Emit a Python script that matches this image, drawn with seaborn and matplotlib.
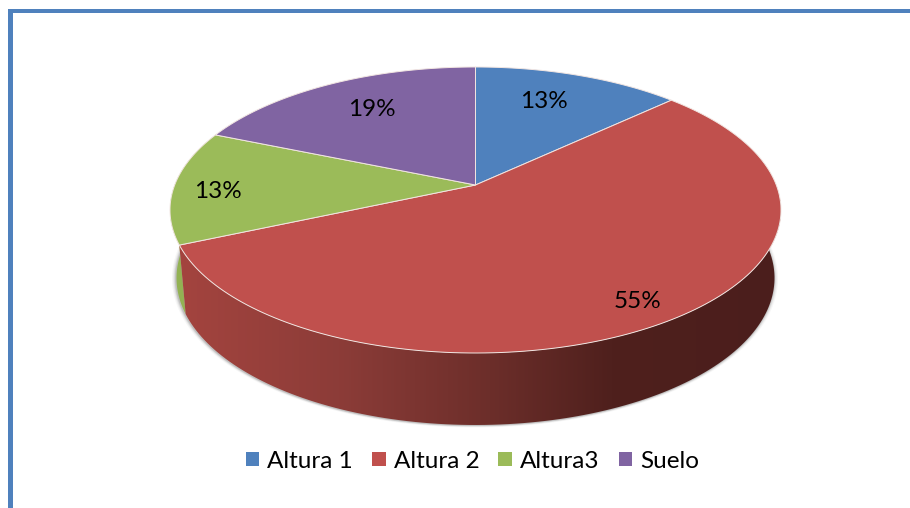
import numpy as np
import matplotlib
matplotlib.use("Agg")
import matplotlib.pyplot as plt
from matplotlib.patches import Patch, Polygon, Rectangle
from matplotlib.colors import LinearSegmentedColormap
import seaborn as sns

categories = ["Altura 1", "Altura 2", "Altura3", "Suelo"]
values = [13.0, 55.4, 12.9, 18.7]
colors = ["#4F81BD", "#C0504D", "#9BBB59", "#8064A2"]
side_colors = ["#4F81BD", "#C0504D", "#93B253", "#8064A2"]
frame_color = "#4F81BD"
text_color = "#000000"

sns.set_theme(style="white")
plt.rcParams["font.family"] = ["Lato", "DejaVu Sans"]

W, H = 910, 508
fig = plt.figure(figsize=(W / 100, H / 100), dpi=100, facecolor="white")
ax = fig.add_axes([0, 0, 1, 1])
ax.set_xlim(0, W)
ax.set_ylim(H, 0)
ax.axis("off")

# Perspective mapping of a unit disc on to the screen
CX, PERSP = 475.5, 0.1748
def top_face(x, y):
    d = 1 + PERSP * y
    return CX + 300.8 * x / d, (185 - 106.3 * y) / d
def bottom_face(x, y):
    d = 1 + PERSP * y
    return CX + 294.4 * x / d, (252.3 - 98.4 * y) / d
def arc(face, a0, a1, n=160):
    t = np.radians(np.linspace(a0, a1, n))
    return np.column_stack(face(np.sin(t), np.cos(t)))

edges = np.concatenate([[0], np.cumsum(values)]) / sum(values) * 360

# Soft shadow below the body
full = arc(bottom_face, 0, 360, 360)
for grow, alpha in zip([4.0, 2.8, 1.8, 0.9], [0.05, 0.08, 0.12, 0.18]):
    c = np.array([CX, 278.0])
    ax.add_patch(Polygon(c + (full - c) * (1 + grow / 299) + [-0.5, 0.5],
                         closed=True, fc="#555555", ec="none", alpha=alpha, zorder=1))

# Side walls
ramp = LinearSegmentedColormap.from_list(
    "wall", [(0.0, "#A4443F"), (0.27, "#8C3C38"), (0.52, "#6C2E2A"),
             (0.72, "#4F201D"), (1.0, "#4B1E1C")])
for i in range(len(values)):
    a0, a1 = edges[i], edges[i + 1]
    poly = np.vstack([arc(top_face, a0, a1), arc(bottom_face, a0, a1)[::-1]])
    if categories[i] == "Altura 2":
        patch = Polygon(poly, closed=True, fc="none", ec="none", zorder=2)
        ax.add_patch(patch)
        im = ax.imshow(np.linspace(0, 1, 256)[None, :], cmap=ramp, aspect="auto",
                       extent=(176, 781, 430, 200), zorder=2)
        im.set_clip_path(patch)
    elif categories[i] == "Altura3":
        ax.add_patch(Polygon(poly, closed=True, fc=side_colors[i], ec="none", zorder=1.5))
ax.set_xlim(0, W)
ax.set_ylim(H, 0)

# Top faces
apex = np.array(top_face(0.0, 0.0))
for i in range(len(values)):
    poly = np.vstack([apex, arc(top_face, edges[i], edges[i + 1])])
    ax.add_patch(Polygon(poly, closed=True, fc=colors[i], ec="#F2E6E2", lw=0.7, zorder=3))

# Percentage labels
label_xy = [(544, 102), (638, 301), (218, 191), (372, 109)]
for (lx, ly), v in zip(label_xy, values):
    ax.text(lx, ly, f"{v / sum(values) * 100:.0f}%", ha="center", va="center",
            fontsize=17.5, color=text_color, zorder=4)

# Frame
ax.add_patch(Rectangle((8, 9), W - 8, 3.5, fc=frame_color, ec="none", zorder=5))
ax.add_patch(Rectangle((8, 9), 5, H - 9, fc=frame_color, ec="none", zorder=5))

# Legend
handles = [Patch(fc=c, ec="none", label=n) for c, n in zip(colors, categories)]
ax.legend(handles=handles, ncol=4, frameon=False, fontsize=17.5,
          loc="center", bbox_to_anchor=(472.5 / W, 1 - 461 / H),
          handlelength=0.55, handleheight=0.55, handletextpad=0.34,
          columnspacing=0.78, labelcolor=text_color)

fig.savefig("out.png", dpi=100)
